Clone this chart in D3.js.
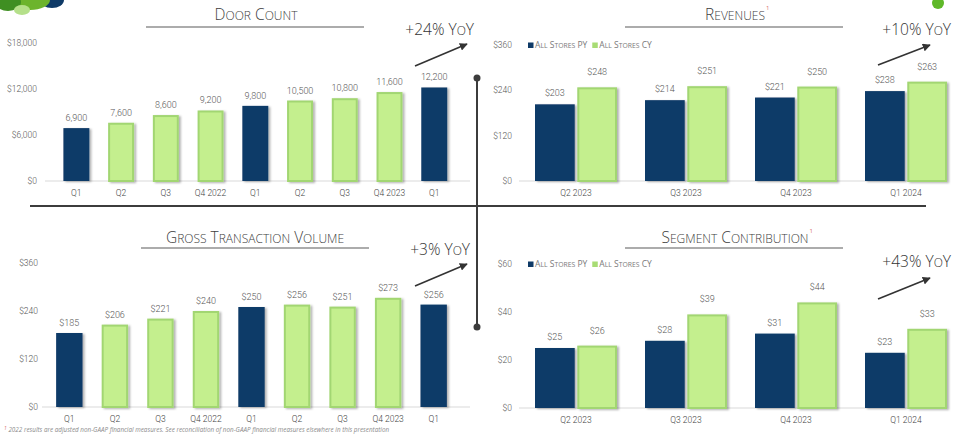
<!DOCTYPE html>
<html><head><meta charset="utf-8">
<script src="https://cdn.jsdelivr.net/npm/d3@7"></script>
<style>body{margin:0;background:#fff}svg{display:block}</style>
</head><body><svg id="c" width="956" height="434"></svg>
<script>
// ---------- data ----------
const quarters = ["Q1","Q2","Q3","Q4 2022","Q1","Q2","Q3","Q4 2023","Q1"];
const isQ1 = [true,false,false,false,true,false,false,false,true];
const doorCount = [6900,7600,8600,9200,9800,10500,10800,11600,12200];
const doorTicks = [0,6000,12000,18000];
const gtv = [185,206,221,240,250,256,251,273,256];
const gtvTicks = [0,120,240,360];
const groupCats = ["Q2 2023","Q3 2023","Q4 2023","Q1 2024"];
const seriesNames = ["All Stores PY","All Stores CY"];
const revenuePY = [203,214,221,238];
const revenueCY = [248,251,250,263];
const revTicks = [0,120,240,360];
const segPY = [25,28,31,23];
const segCY = [26,39,44,33];
const segTicks = [0,20,40,60];

const NAVY = "#0f3a67", GREEN = "#c4ef8e", GREEN_S = "#a2d672";
const NUMF = "Roboto", NUMW = 300;
const svg = d3.select("#c");
const defs = svg.append("defs");
const f = defs.append("filter").attr("id","sh").attr("x","-20%").attr("y","-20%").attr("width","150%").attr("height","140%");
f.append("feDropShadow").attr("dx",2).attr("dy",1).attr("stdDeviation",1).attr("flood-color","#000").attr("flood-opacity",0.3);
defs.append("marker").attr("id","ar").attr("viewBox","0 0 10 10").attr("refX",9).attr("refY",5)
  .attr("markerWidth",5).attr("markerHeight",5).attr("orient","auto")
  .append("path").attr("d","M0,0L10,5L0,10z").attr("fill","#333");

function smallCaps(sel, str, big, small){
  for (const ch of str){
    const up = ch === ch.toUpperCase();
    sel.append("tspan").attr("font-size", up ? big : small).text(ch.toUpperCase());
  }
  return sel;
}
function title(x, y, str, lx1, lx2, ly, sup){
  const t = svg.append("text").attr("x",x).attr("y",y).attr("text-anchor","middle")
    .attr("font-family","Open Sans").attr("font-weight",300).attr("fill","#404040");
  smallCaps(t, str, 15.5, 12);
  if (sup){
    const bb = t.node().getBBox();
    svg.append("text").attr("x",bb.x+bb.width+1).attr("y",y-10).attr("font-size",6)
      .attr("font-family","Open Sans").attr("fill","#d87070").text("1");
  }
  svg.append("line").attr("x1",lx1).attr("x2",lx2).attr("y1",ly).attr("y2",ly)
    .attr("stroke","#5a5a5a").attr("stroke-width",1.2);
}
function yoy(xr, y, str, ax1, ay1, ax2, ay2){
  const t = svg.append("text").attr("x",xr).attr("y",y).attr("text-anchor","end")
    .attr("font-family","Open Sans").attr("font-weight",300).attr("fill","#333");
  smallCaps(t, str, 15.5, 12);
  svg.append("line").attr("x1",ax1).attr("y1",ay1).attr("x2",ax2).attr("y2",ay2)
    .attr("stroke","#333").attr("stroke-width",1.6).attr("marker-end","url(#ar)");
}
function yAxis(y, ticks, xr, fmt){
  svg.append("g").selectAll("text").data(ticks).join("text")
    .attr("x",xr).attr("y",d=>y(d)+3).attr("text-anchor","end")
    .attr("font-family",NUMF).attr("font-weight",NUMW).attr("font-size",8.5).attr("fill","#555").text(fmt);
}
function baseline(x1,x2,y){
  svg.append("line").attr("x1",x1).attr("x2",x2).attr("y1",y).attr("y2",y).attr("stroke","#d9d9d9").attr("stroke-width",1);
}
function barStyle(sel, navy){
  sel.attr("fill", d=>navy(d) ? NAVY : GREEN)
     .attr("stroke", d=>navy(d) ? "none" : GREEN_S).attr("stroke-width",2)
     .attr("filter","url(#sh)");
}

function simplePanel(values, ticks, xr, yr, fmtTick, fmtVal, base){
  const idx = values.map((_,i)=>i);
  const x = d3.scaleBand().domain(idx).range(xr).padding(0.42);
  const y = d3.scaleLinear().domain([0, ticks[ticks.length-1]]).range(yr);
  yAxis(y, ticks, base.tx, fmtTick);
  baseline(base.x1, base.x2, yr[0]);
  const g = svg.append("g");
  g.selectAll("rect").data(idx).join("rect")
    .attr("x", i=>x(i)+(isQ1[i]?0:1)).attr("width", i=>x.bandwidth()-(isQ1[i]?0:2))
    .attr("y", i=>y(values[i])+(isQ1[i]?0:1)).attr("height", i=>y(0)-y(values[i])-(isQ1[i]?0:1))
    .call(barStyle, i=>isQ1[i]);
  g.selectAll("text.v").data(idx).join("text").attr("class","v")
    .attr("x", i=>x(i)+x.bandwidth()/2).attr("y", i=>y(values[i])-7).attr("text-anchor","middle")
    .attr("font-family",NUMF).attr("font-weight",NUMW).attr("font-size",9).attr("fill","#555").text(i=>fmtVal(values[i]));
  g.selectAll("text.c").data(idx).join("text").attr("class","c")
    .attr("x", i=>x(i)+x.bandwidth()/2).attr("y", yr[0]+15).attr("text-anchor","middle")
    .attr("font-family",NUMF).attr("font-weight",NUMW).attr("font-size",8.5).attr("fill","#444").text(i=>quarters[i]);
}

function groupPanel(py, cy, ticks, yr, legendY){
  const x0 = d3.scaleBand().domain(groupCats).range([521,961]);
  const x1 = d3.scaleBand().domain(seriesNames).range([-41,41]).paddingInner(0.06);
  const y = d3.scaleLinear().domain([0, ticks[ticks.length-1]]).range(yr);
  yAxis(y, ticks, 512, d=>"$"+d);
  baseline(519, 935, yr[0]);
  const rows = [];
  groupCats.forEach((c,i)=>{ rows.push({c, s:seriesNames[0], v:py[i]}); rows.push({c, s:seriesNames[1], v:cy[i]}); });
  const g = svg.append("g");
  const cx = d => x0(d.c)+x0.bandwidth()/2 + x1(d.s);
  const nv = d => d.s === seriesNames[0];
  g.selectAll("rect").data(rows).join("rect")
    .attr("x", d=>cx(d)+(nv(d)?0:1)).attr("width", d=>x1.bandwidth()-(nv(d)?0:2))
    .attr("y", d=>y(d.v)+(nv(d)?0:1)).attr("height", d=>y(0)-y(d.v)-(nv(d)?0:1))
    .call(barStyle, nv);
  g.selectAll("text.v").data(rows).join("text").attr("class","v")
    .attr("x", d=>cx(d)+x1.bandwidth()/2).attr("y", d=>y(d.v)-(nv(d)?8:12)).attr("text-anchor","middle")
    .attr("font-family",NUMF).attr("font-weight",NUMW).attr("font-size",9).attr("fill","#555").text(d=>"$"+d.v);
  g.selectAll("text.c").data(groupCats).join("text").attr("class","c")
    .attr("x", d=>x0(d)+x0.bandwidth()/2).attr("y", yr[0]+15).attr("text-anchor","middle")
    .attr("font-family",NUMF).attr("font-weight",NUMW).attr("font-size",8.5).attr("fill","#444").text(d=>d);
  // legend
  let lx = 528;
  seriesNames.forEach((s,i)=>{
    svg.append("rect").attr("x",lx).attr("y",legendY-5.5).attr("width",5.5).attr("height",5.5).attr("fill", i===0?NAVY:"#a8dc74");
    const t = svg.append("text").attr("x",lx+7).attr("y",legendY).attr("font-family","Open Sans").attr("font-weight",400).attr("fill","#7a7a7a");
    smallCaps(t, s, 8.5, 6.8);
    lx += 7 + t.node().getComputedTextLength() + 5;
  });
}

// ---------- logo fragment & decorations ----------
svg.append("ellipse").attr("cx",52).attr("cy",0).attr("rx",12).attr("ry",8).attr("fill",NAVY);
svg.append("ellipse").attr("cx",30).attr("cy",0).attr("rx",20).attr("ry",10).attr("fill","#6cb42c");
svg.append("ellipse").attr("cx",8).attr("cy",2).attr("rx",13).attr("ry",9).attr("fill","#3f8f22");
svg.append("ellipse").attr("cx",22).attr("cy",10).attr("rx",8).attr("ry",5).attr("fill","#b5e08a");
svg.append("circle").attr("cx",938).attr("cy",3).attr("r",6).attr("fill","#5fb829");

// dividers
svg.append("line").attr("x1",30).attr("x2",926).attr("y1",206).attr("y2",206).attr("stroke","#3c3c3c").attr("stroke-width",2);
svg.append("line").attr("x1",477).attr("x2",477).attr("y1",78).attr("y2",327).attr("stroke","#3c3c3c").attr("stroke-width",2);
svg.append("circle").attr("cx",477).attr("cy",78).attr("r",3.5).attr("fill","#3c3c3c");
svg.append("circle").attr("cx",477).attr("cy",327).attr("r",3.5).attr("fill","#3c3c3c");

// ---------- panels ----------
title(256, 20, "Door Count", 146, 364, 27, false);
yoy(474, 35, "+24% YoY", 415, 66, 467, 44);
simplePanel(doorCount, doorTicks, [44.6,466], [181,43], d=>"$"+d3.format(",")(d), d=>d3.format(",")(d), {tx:37, x1:45, x2:470});

title(735, 20, "Revenues", 625, 843, 27, true);
yoy(951, 35, "+10% YoY", 878, 65, 930, 45);
groupPanel(revenuePY, revenueCY, revTicks, [181,45], 48);

title(255, 243, "Gross Transaction Volume", 141, 369, 248, false);
yoy(470, 255, "+3% YoY", 415, 286, 467, 264);
simplePanel(gtv, gtvTicks, [37,466], [407,263], d=>"$"+d, d=>"$"+d, {tx:38, x1:42, x2:470});

title(735, 243, "Segment Contribution", 625, 843, 248, true);
yoy(951, 267, "+43% YoY", 878, 299, 930, 278);
groupPanel(segPY, segCY, segTicks, [408,264], 267);

// footnote
const fn = svg.append("text").attr("x",4).attr("y",432).attr("font-family","Open Sans").attr("font-style","italic")
  .attr("font-size",6.3).attr("fill","#8a8a8a");
fn.append("tspan").attr("fill","#d87070").attr("font-size",5).attr("dy",-2).text("1");
fn.append("tspan").attr("dy",2).text(" 2022 results are adjusted non-GAAP financial measures. See reconciliation of non-GAAP financial measures elsewhere in this presentation");
</script></body></html>
